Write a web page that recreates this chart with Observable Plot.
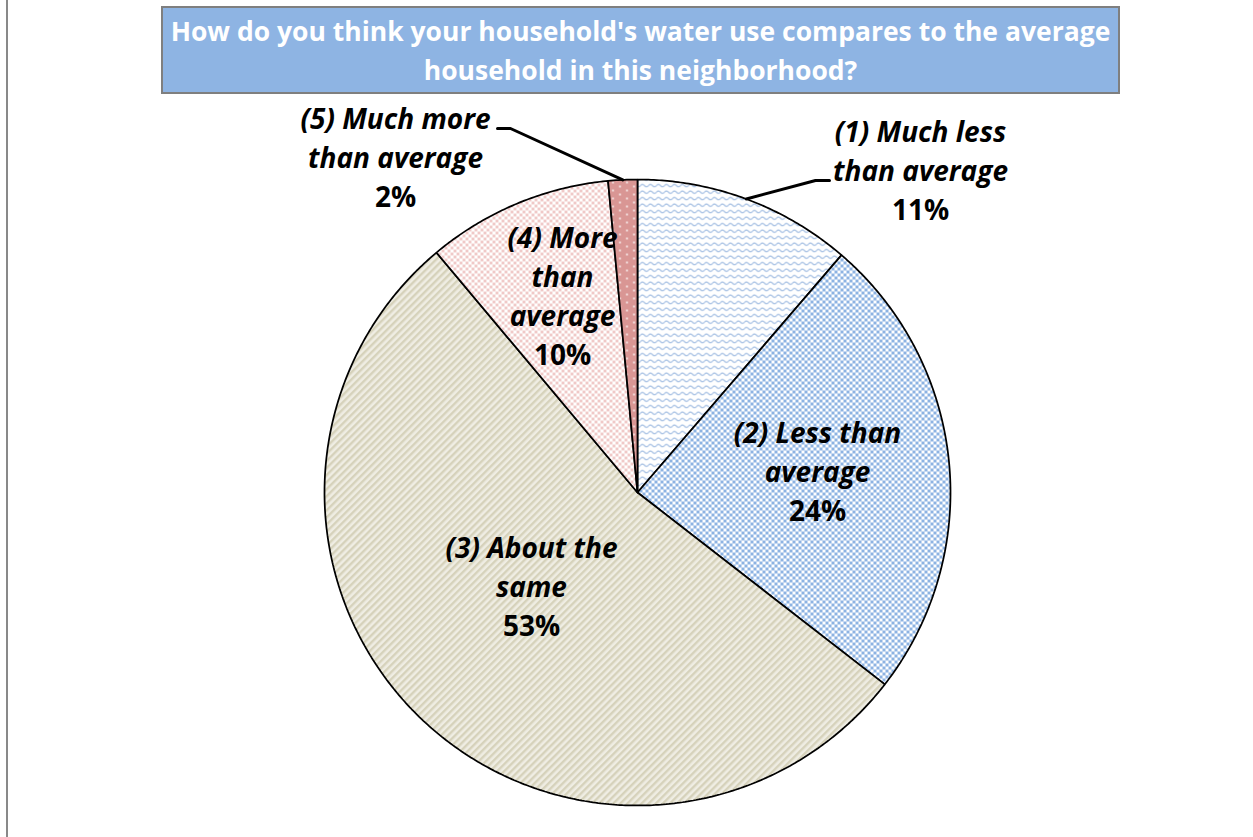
<!DOCTYPE html>
<html>
<head>
<meta charset="utf-8">
<script src="https://cdn.jsdelivr.net/npm/d3@7"></script>
<script src="https://cdn.jsdelivr.net/npm/@observablehq/plot@0.6"></script>
<style>
  html, body { margin: 0; padding: 0; background: #fff; }
  #wrap { position: relative; width: 1253px; height: 837px; overflow: hidden; }
  #leftrule { position: absolute; left: 6px; top: 0; width: 2px; height: 837px; background: #898989; }
  #title {
    position: absolute; left: 161px; top: 6px; width: 959px; height: 88px;
    box-sizing: border-box; border: 2px solid #7f7f7f; background: #8eb4e3;
    color: #fff; font-family: "Open Sans", sans-serif; font-weight: bold; font-size: 26.5px;
    line-height: 39px; text-align: center; padding-top: 3.5px; white-space: nowrap;
  }
  #chart { position: absolute; left: 0; top: 0; }
</style>
</head>
<body>
<svg width="0" height="0" style="position:absolute">
  <defs>
    <pattern id="pWave" width="8" height="6.5" patternUnits="userSpaceOnUse">
      <rect width="8" height="6.5" fill="#fff"/>
      <path d="M0,3.2 Q2,0.8 4,3.2 T8,3.2" fill="none" stroke="#9ab8e0" stroke-width="1.1"/>
    </pattern>
    <pattern id="pCheck" width="6" height="6" patternUnits="userSpaceOnUse">
      <rect width="6" height="6" fill="#fff"/>
      <rect x="0" y="0" width="3" height="3" fill="#8db3e2"/>
      <rect x="3" y="3" width="3" height="3" fill="#8db3e2"/>
    </pattern>
    <pattern id="pStripe" width="5" height="5" patternUnits="userSpaceOnUse" patternTransform="rotate(45)">
      <rect width="5" height="5" fill="#efede3"/>
      <rect x="0" y="0" width="2.4" height="5" fill="#d6d2bb"/>
    </pattern>
    <pattern id="pDots" width="6" height="6" patternUnits="userSpaceOnUse">
      <rect width="6" height="6" fill="#fff"/>
      <rect x="0.2" y="0.2" width="2.6" height="2.6" fill="#edbcbb"/>
      <rect x="3.2" y="3.2" width="2.6" height="2.6" fill="#edbcbb"/>
    </pattern>
    <pattern id="pSolidDots" width="14" height="8" patternUnits="userSpaceOnUse">
      <rect width="14" height="8" fill="#d99694"/>
      <circle cx="3.5" cy="2" r="0.9" fill="#fff"/>
      <circle cx="10.5" cy="6" r="0.9" fill="#fff"/>
    </pattern>
  </defs>
</svg>
<div id="wrap">
  <div id="leftrule"></div>
  <div id="chart"></div>
  <div id="title">How do you think your household's water use compares to the average<br>household in this neighborhood?</div>
</div>
<script>
// ---- data ----
const categories = [
  "(1) Much less than average",
  "(2) Less than average",
  "(3) About the same",
  "(4) More than average",
  "(5) Much more than average"
];
const shares = [11.3, 24.2, 53.4, 9.6, 1.5];
const pctLabels = ["11%", "24%", "53%", "10%", "2%"];
const labelLines = [
  ["(1) Much less", "than average"],
  ["(2) Less than", "average"],
  ["(3) About the", "same"],
  ["(4) More", "than", "average"],
  ["(5) Much more", "than average"]
];

// ---- layout / style (pixels in the 1253x837 page) ----
const W = 1253, H = 837;
const CX = 637, CY = 492, R = 313;
const fills = ["url(#pWave)", "url(#pCheck)", "url(#pStripe)", "url(#pDots)", "url(#pSolidDots)"];
const labelCenterPx = [[920, 172], [817, 473], [531, 588], [562, 297.5], [395, 159]];
const leaderPx = [ [[815, 180], [829, 180]], null, null, null, [[510, 128], [497, 128]] ];
const lineStep = 39;
const fontFamily = "'Open Sans', sans-serif";
const fontSize = 28;

const ux = px => (px - CX) / R;
const uy = py => (CY - py) / R;

const data = categories.map((c, i) => ({category: c, share: shares[i], pct: pctLabels[i], lines: labelLines[i]}));
const arcs = d3.pie().sort(null).value(d => d.share)(data);

const sliceMarks = arcs.map((a, i) => {
  const n = Math.max(2, Math.ceil((a.endAngle - a.startAngle) / (Math.PI / 360)));
  const pts = [[0, 0]];
  for (let k = 0; k <= n; k++) {
    const t = a.startAngle + (a.endAngle - a.startAngle) * k / n;
    pts.push([Math.sin(t), Math.cos(t)]);
  }
  pts.push([0, 0]);
  return Plot.line(pts, {x: d => d[0], y: d => d[1], fill: fills[i], stroke: "#000", strokeWidth: 1.75, strokeLinejoin: "miter", curve: "linear"});
});

const leaderMarks = [];
arcs.forEach((a, i) => {
  if (!leaderPx[i]) return;
  const mid = (a.startAngle + a.endAngle) / 2;
  const pts = [[Math.sin(mid), Math.cos(mid)], ...leaderPx[i].map(p => [ux(p[0]), uy(p[1])])];
  leaderMarks.push(Plot.line(pts, {x: d => d[0], y: d => d[1], stroke: "#000", strokeWidth: 3, curve: "linear"}));
});

const italicRows = [], pctRows = [];
data.forEach((d, i) => {
  const n = d.lines.length + 1;
  const [lx, ly] = labelCenterPx[i];
  d.lines.forEach((t, j) => {
    italicRows.push({text: t, x: ux(lx), y: uy(ly + (j - (n - 1) / 2) * lineStep)});
  });
  pctRows.push({text: d.pct, x: ux(lx), y: uy(ly + ((n - 1) - (n - 1) / 2) * lineStep)});
});

const plot = Plot.plot({
  width: W, height: H,
  margin: 0,
  x: {domain: [ux(0), ux(W)], axis: null},
  y: {domain: [uy(H), uy(0)], axis: null},
  style: {background: "transparent", overflow: "visible"},
  marks: [
    ...sliceMarks,
    ...leaderMarks,
    Plot.text(italicRows, {x: "x", y: "y", text: "text", fontFamily, fontSize, fontWeight: "bold", fontStyle: "italic", fill: "#000", textAnchor: "middle", lineAnchor: "middle"}),
    Plot.text(pctRows, {x: "x", y: "y", text: "text", fontFamily, fontSize, fontWeight: "bold", fill: "#000", textAnchor: "middle", lineAnchor: "middle"})
  ]
});
document.getElementById("chart").appendChild(plot);
</script>
</body>
</html>
